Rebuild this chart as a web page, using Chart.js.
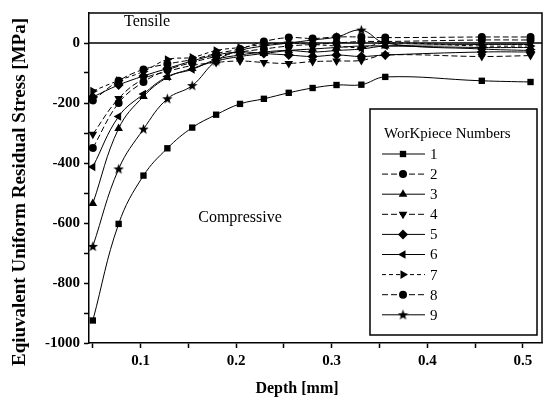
<!DOCTYPE html>
<html>
<head>
<meta charset="utf-8">
<script src="https://cdn.jsdelivr.net/npm/chart.js@4"></script>
<style>
  body { margin: 0; background: #fff; }
  #wrap { width: 547px; height: 404px; position: relative; }
</style>
</head>
<body>
<div id="wrap"><canvas id="myCanvas" width="547" height="404"></canvas></div>
<script>
// depth of each measurement, mm
const depth = [0.05, 0.077, 0.103, 0.128, 0.154, 0.179, 0.204, 0.229, 0.255, 0.28, 0.305, 0.331, 0.356, 0.457, 0.508];

// residual stress per workpiece, MPa
const series1 = [-925, -603, -442, -351, -282, -239, -203, -186, -166, -150, -140, -139, -113, -126, -130];
const series2 = [-350, -200, -130, -90, -65, -45, -30, -20, -10, -5, 0, 5, 5, 10, 10];
const series3 = [-535, -285, -178, -115, -85, -60, -45, -35, -25, -20, -15, -10, -10, -15, -15];
const series4 = [-304, -185, -120, -95, -75, -65, -60, -65, -68, -62, -60, -58, -40, -45, -42];
const series5 = [-180, -140, -110, -85, -60, -40, -30, -35, -40, -45, -40, -45, -40, -30, -30];
const series6 = [-413, -245, -170, -112, -88, -55, -40, -30, -25, -30, -25, -20, -10, -5, -5];
const series7 = [-160, -125, -95, -55, -48, -25, -15, -5, 0, -5, -10, -15, 0, -10, -10];
const series8 = [-192, -126, -88, -70, -55, -35, -20, 5, 18, 15, 20, 20, 18, 20, 20];
const series9 = [-678, -420, -287, -186, -142, -60, -25, -10, 0, 10, 20, 43, 0, -20, -25];

const seriesNames = ['1', '2', '3', '4', '5', '6', '7', '8', '9'];

const xTickValues = [0.05, 0.1, 0.15, 0.2, 0.25, 0.3, 0.35, 0.4, 0.45, 0.5];
const xTickLabels = ['', '0.1', '', '0.2', '', '0.3', '', '0.4', '', '0.5'];
const yTickValues = [0, -100, -200, -300, -400, -500, -600, -700, -800, -900, -1000];
const yTickLabels = ['0', '', '-200', '', '-400', '', '-600', '', '-800', '', '-1000'];

const serif = "'Liberation Serif', 'DejaVu Serif', serif";

// filled five point star for workpiece 9
const starImg = document.createElement('canvas');
starImg.width = 11;
starImg.height = 11;
(function () {
  const c = starImg.getContext('2d');
  c.beginPath();
  for (let i = 0; i < 10; i++) {
    const r = i % 2 === 0 ? 5.5 : 2.3;
    const a = -Math.PI / 2 + i * Math.PI / 5;
    c.lineTo(5.5 + r * Math.cos(a), 5.8 + r * Math.sin(a));
  }
  c.closePath();
  c.fillStyle = '#000';
  c.fill();
})();

const markers = [
  { pointStyle: 'rect', rotation: 0, radius: 4.5, dash: [] },
  { pointStyle: 'circle', rotation: 0, radius: 4, dash: [6, 3] },
  { pointStyle: 'triangle', rotation: 0, radius: 5, dash: [] },
  { pointStyle: 'triangle', rotation: 180, radius: 5, dash: [6, 3] },
  { pointStyle: 'rectRot', rotation: 0, radius: 5, dash: [] },
  { pointStyle: 'triangle', rotation: -90, radius: 5, dash: [] },
  { pointStyle: 'triangle', rotation: 90, radius: 5, dash: [4, 3] },
  { pointStyle: 'circle', rotation: 0, radius: 4, dash: [6, 3] },
  { pointStyle: starImg, rotation: 0, radius: 5, dash: [] }
];

const allSeries = [series1, series2, series3, series4, series5, series6, series7, series8, series9];

const datasets = allSeries.map((s, i) => ({
  label: seriesNames[i],
  data: s.map((v, j) => ({ x: depth[j], y: v })),
  borderColor: '#000',
  backgroundColor: '#000',
  borderWidth: 1,
  borderDash: markers[i].dash,
  pointStyle: markers[i].pointStyle,
  rotation: markers[i].rotation,
  pointRadius: markers[i].radius,
  pointBorderWidth: 0,
  tension: 0.4,
  fill: false
}));

const decor = {
  id: 'decor',
  beforeDatasetsDraw(chart) {
    const ctx = chart.ctx, a = chart.chartArea;
    const y0 = chart.scales.y.getPixelForValue(0);
    ctx.save();
    ctx.strokeStyle = '#000';
    ctx.lineWidth = 1.5;
    ctx.beginPath();
    ctx.moveTo(a.left, a.top);
    ctx.lineTo(a.right, a.top);
    ctx.lineTo(a.right, a.bottom);
    ctx.moveTo(a.left, y0);
    ctx.lineTo(a.right, y0);
    ctx.stroke();
    ctx.restore();
  },
  afterDraw(chart) {
    const ctx = chart.ctx;
    ctx.save();
    ctx.fillStyle = '#000';
    ctx.textBaseline = 'middle';

    // region notes
    ctx.font = '16px ' + serif;
    ctx.textAlign = 'center';
    ctx.fillText('Tensile', 147, 22);
    ctx.fillText('Compressive', 240, 218);

    // axis titles
    ctx.font = 'bold 16px ' + serif;
    ctx.fillText('Depth [mm]', 297, 389);
    ctx.save();
    ctx.translate(20, 192);
    ctx.rotate(-Math.PI / 2);
    ctx.font = 'bold 19px ' + serif;
    ctx.fillText('Eqiuvalent Uniform Residual Stress [MPa]', 0, 0);
    ctx.restore();

    // legend box
    ctx.fillStyle = '#fff';
    ctx.fillRect(370, 109, 167, 226);
    ctx.strokeStyle = '#000';
    ctx.lineWidth = 1.5;
    ctx.strokeRect(370, 109, 167, 226);
    ctx.fillStyle = '#000';
    ctx.font = '15px ' + serif;
    ctx.textAlign = 'left';
    ctx.fillText('WorKpiece Numbers', 384, 134);

    chart.data.datasets.forEach((ds, i) => {
      const y = 154 + i * 20.1;
      ctx.strokeStyle = '#000';
      ctx.lineWidth = 1;
      ctx.setLineDash(ds.borderDash);
      ctx.beginPath();
      ctx.moveTo(382, y);
      ctx.lineTo(425, y);
      ctx.stroke();
      ctx.setLineDash([]);
      ctx.fillStyle = '#000';
      Chart.helpers.drawPoint(ctx, {
        pointStyle: ds.pointStyle,
        rotation: ds.rotation,
        radius: ds.pointRadius,
        borderWidth: 0
      }, 403, y);
      ctx.fillStyle = '#000';
      ctx.font = '15px ' + serif;
      ctx.fillText(ds.label, 430, y + 1);
    });
    ctx.restore();
  }
};

const configurationOptions = {
  type: 'line',
  data: { datasets: datasets },
  options: {
    responsive: false,
    animation: false,
    layout: { padding: { top: 10, right: 0, bottom: 0, left: 0 } },
    plugins: {
      legend: { display: false },
      tooltip: { enabled: false }
    },
    scales: {
      x: {
        type: 'linear',
        min: 0.046,
        max: 0.52,
        afterBuildTicks: (scale) => { scale.ticks = xTickValues.map(v => ({ value: v })); },
        afterFit: (scale) => { scale.height = 61; },
        ticks: {
          autoSkip: false,
          maxRotation: 0,
          padding: 4,
          color: '#000',
          font: { family: serif, size: 15, weight: 'bold' },
          callback: (v, i) => xTickLabels[i]
        },
        grid: { drawOnChartArea: false, tickLength: 5, tickColor: '#000', tickWidth: 1.5 },
        border: { display: true, color: '#000', width: 1.5 }
      },
      y: {
        type: 'linear',
        min: -1000,
        max: 100,
        afterBuildTicks: (scale) => { scale.ticks = yTickValues.map(v => ({ value: v })); },
        afterFit: (scale) => { scale.width = 89; },
        ticks: {
          autoSkip: false,
          padding: 4,
          color: '#000',
          font: { family: serif, size: 15, weight: 'bold' },
          callback: (v, i) => yTickLabels[i]
        },
        grid: { drawOnChartArea: false, tickLength: 5, tickColor: '#000', tickWidth: 1.5 },
        border: { display: true, color: '#000', width: 1.5 }
      }
    }
  },
  plugins: [decor]
};

const ctx = document.getElementById('myCanvas');
const myChart = new Chart(ctx, configurationOptions);
</script>
</body>
</html>
